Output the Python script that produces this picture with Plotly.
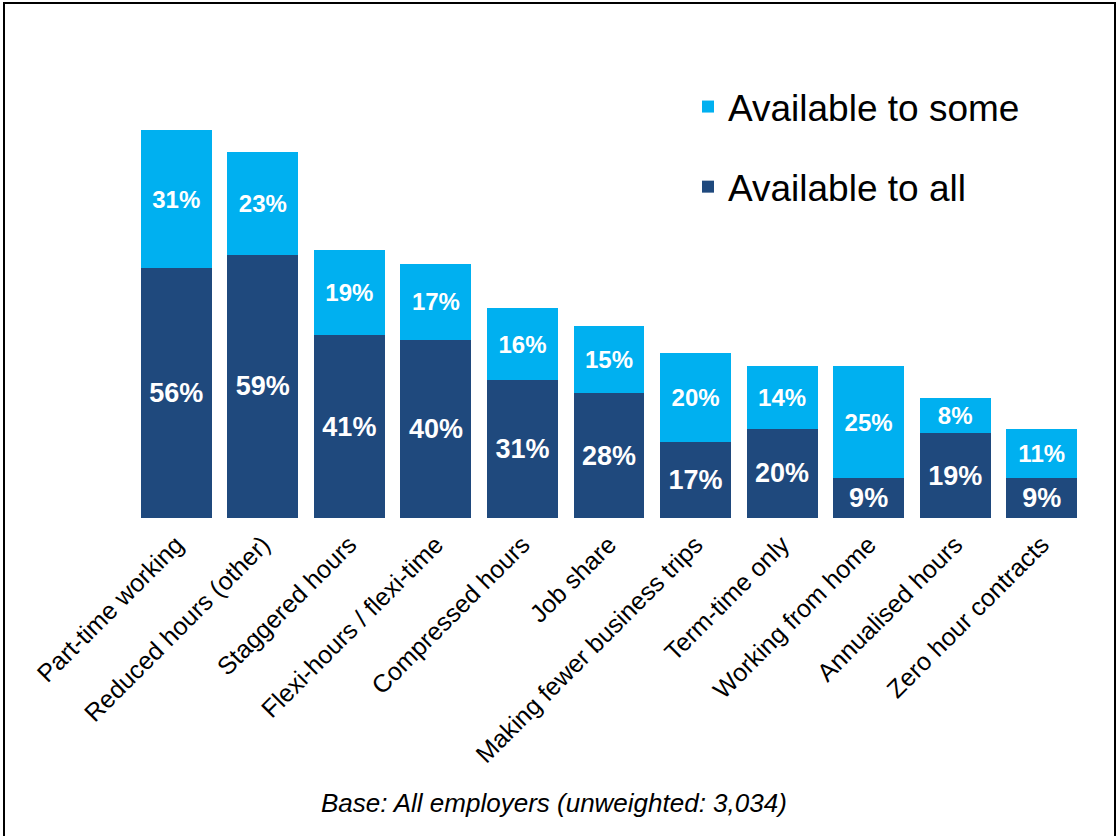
import plotly.graph_objects as go

categories = ["Part-time working", "Reduced hours (other)", "Staggered hours",
              "Flexi-hours / flexi-time", "Compressed hours", "Job share",
              "Making fewer business trips", "Term-time only", "Working from home",
              "Annualised hours", "Zero hour contracts"]
available_to_all = [56, 59, 41, 40, 31, 28, 17, 20, 9, 19, 9]
available_to_some = [31, 23, 19, 17, 16, 15, 20, 14, 25, 8, 11]

DARK = "#1F497D"
LIGHT = "#00B0F0"
FONT = "Arial, Liberation Sans, sans-serif"

fig = go.Figure()
fig.add_trace(go.Bar(
    x=categories, y=available_to_all, name="Available to all",
    marker=dict(color=DARK, line=dict(width=0)),
    text=[f"{v}%" for v in available_to_all], textposition="inside",
    insidetextanchor="middle", textangle=0,
    textfont=dict(color="white", size=27, family=FONT, weight="bold"),
    legendgroup="all", legendrank=2,
))
fig.add_trace(go.Bar(
    x=categories, y=available_to_some, name="Available to some",
    marker=dict(color=LIGHT, line=dict(width=0)),
    text=[f"{v}%" for v in available_to_some], textposition="inside",
    insidetextanchor="middle", textangle=0,
    textfont=dict(color="white", size=24, family=FONT, weight="bold"),
    legendgroup="some", legendrank=1,
))

L, R, T, B = 133, 1085, 72, 518
W, H = 1117, 836
pw, ph = R - L, B - T

def px(x):
    return (x - L) / pw

def py(y):
    return (B - y) / ph

fig.update_layout(
    width=W, height=H,
    margin=dict(l=L, r=W - R, t=T, b=H - B, pad=0),
    barmode="stack", bargap=0.18,
    plot_bgcolor="white", paper_bgcolor="white",
    font=dict(family=FONT, color="black"),
    xaxis=dict(tickangle=-45, tickfont=dict(size=25, color="black"),
               showline=False, showgrid=False, ticks="", automargin=False,
               ticklabelstandoff=6),
    yaxis=dict(range=[0, 100], visible=False, showgrid=False, automargin=False),
    legend=dict(x=px(688), y=py(76), xanchor="left", yanchor="top",
                font=dict(size=37, color="black"),
                traceorder="grouped", tracegroupgap=29,
                bgcolor="rgba(0,0,0,0)"),
    annotations=[dict(text="<i>Base: All employers (unweighted: 3,034)</i>",
                      xref="paper", yref="paper", x=px(554), y=py(803),
                      xanchor="center", yanchor="middle", showarrow=False,
                      font=dict(size=26, color="black", family=FONT))],
    shapes=[dict(type="rect", xref="paper", yref="paper",
                 x0=px(4), x1=px(1115), y0=py(850), y1=py(3),
                 line=dict(color="black", width=2), fillcolor="rgba(0,0,0,0)",
                 layer="below")],
)

fig.write_html("out.html", config={"displayModeBar": False},
               post_script="document.body.style.margin='0';document.body.style.overflow='hidden';")
